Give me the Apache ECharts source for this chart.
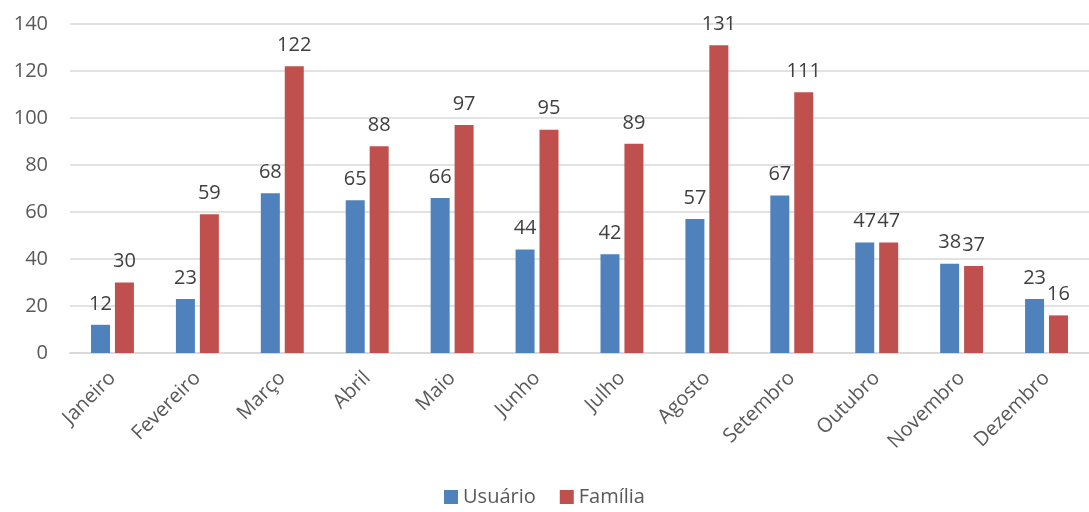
<!DOCTYPE html>
<html>
<head>
<meta charset="utf-8">
<script src="https://cdn.jsdelivr.net/npm/echarts@6/dist/echarts.min.js"></script>
<style>
  html, body { margin: 0; padding: 0; background: #fff; }
  #chart { width: 1089px; height: 512px; }
</style>
</head>
<body>
<div id="chart"></div>
<script>
const months = ['Janeiro', 'Fevereiro', 'Março', 'Abril', 'Maio', 'Junho',
    'Julho', 'Agosto', 'Setembro', 'Outubro', 'Novembro', 'Dezembro'];
const usuario = [12, 23, 68, 65, 66, 44, 42, 57, 67, 47, 38, 23];
const familia = [30, 59, 122, 88, 97, 95, 89, 131, 111, 47, 37, 16];
const yTicks = [0, 20, 40, 60, 80, 100, 120, 140];

const font = '"Open Sans", "Noto Sans", sans-serif';

const chart = echarts.init(document.getElementById('chart'));

const label = {
    show: true,
    position: 'top',
    distance: 11,
    color: '#404040',
    fontSize: 20,
    fontFamily: font
};

chart.setOption({
    animation: false,
    grid: {
        left: 70,
        top: 24,
        width: 1028,
        height: 329
    },
    legend: {
        bottom: 0,
        left: 'center',
        itemWidth: 14,
        itemHeight: 14,
        itemGap: 24,
        icon: 'rect',
        textStyle: { color: '#595959', fontSize: 20, fontFamily: font },
        data: ['Usuário', 'Família']
    },
    xAxis: {
        type: 'category',
        data: months,
        axisLine: { lineStyle: { color: '#d9d9d9', width: 2 } },
        axisTick: { show: false },
        axisLabel: {
            rotate: 45,
            interval: 0,
            margin: 22,
            color: '#595959',
            fontSize: 20,
            fontFamily: font
        }
    },
    yAxis: {
        type: 'value',
        min: yTicks[0],
        max: yTicks[yTicks.length - 1],
        interval: 20,
        axisLine: { show: false },
        axisTick: { show: false },
        splitLine: { lineStyle: { color: '#d9d9d9', width: 1.5 } },
        axisLabel: {
            margin: 22,
            color: '#595959',
            fontSize: 20,
            fontFamily: font
        }
    },
    series: [
        {
            name: 'Usuário',
            type: 'bar',
            data: usuario,
            barWidth: 19,
            barGap: '26%',
            itemStyle: { color: '#4f81bd' },
            label: label
        },
        {
            name: 'Família',
            type: 'bar',
            data: familia,
            barWidth: 19,
            itemStyle: { color: '#c0504d' },
            label: label
        }
    ]
});
</script>
</body>
</html>
